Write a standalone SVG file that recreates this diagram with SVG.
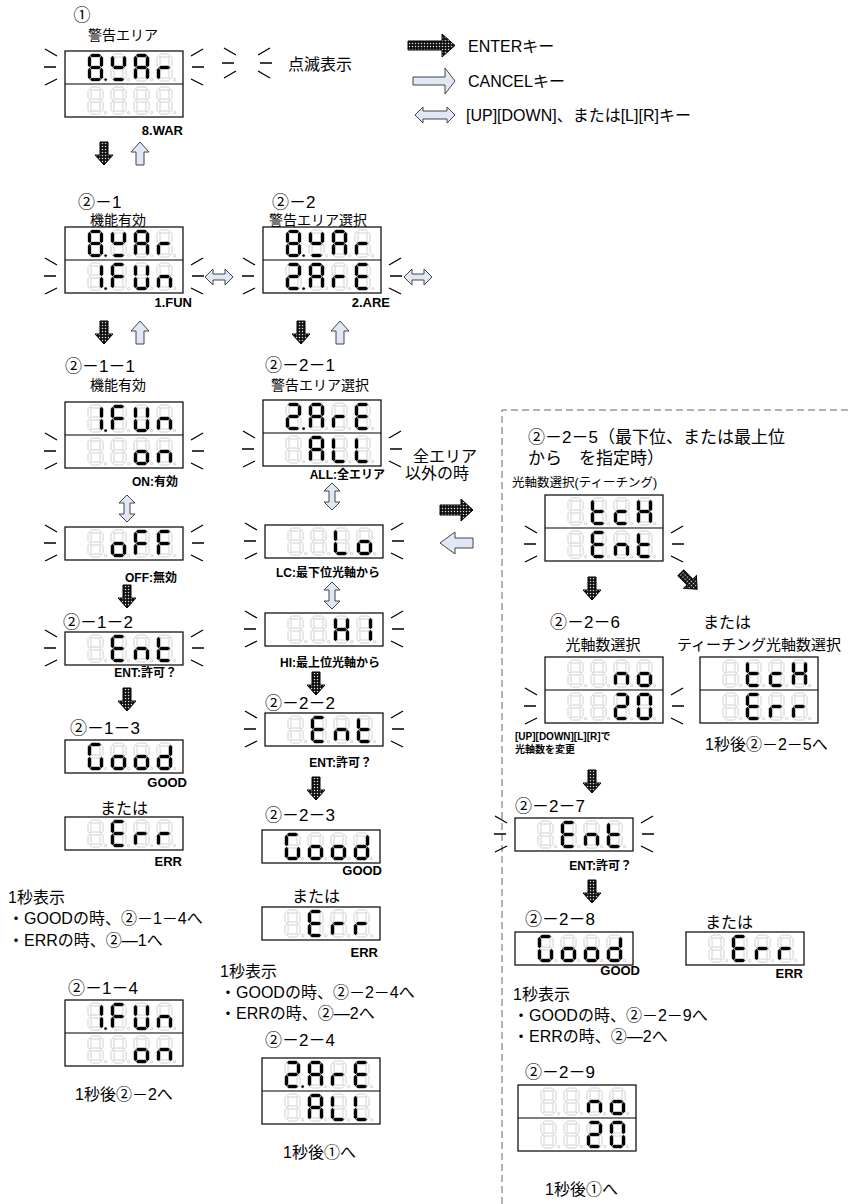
<svg xmlns="http://www.w3.org/2000/svg" width="851" height="1204" viewBox="0 0 851 1204">
<style>
text{font-family:"Liberation Sans","Noto Sans CJK JP",sans-serif;fill:#000}
.h{font-size:17px}
.m{font-size:16px}
.s{font-size:14px}
.s15{font-size:15px}
.lb{font-size:13px;font-weight:bold}
.lc{font-size:12px;font-weight:bold}
.xs{font-size:10px;font-weight:bold}
.box{fill:#fff;stroke:#000;stroke-width:1.2}
.off{fill:#fff;stroke:#c4c4c4;stroke-width:0.8}
.on{fill:#000;stroke:#000;stroke-width:0.3}
.bl{stroke:#000;stroke-width:1.3;fill:none}
.en{fill:url(#dots);stroke:#000;stroke-width:1}
.ca{fill:#dfe8f4;stroke:#444;stroke-width:1}
.ds{fill:none;stroke:#666;stroke-width:1;stroke-dasharray:7,4}
</style>
<defs>
<pattern id="dots" width="3" height="3" patternUnits="userSpaceOnUse"><rect width="3" height="3" fill="#111"/><circle cx="1.5" cy="1.5" r="0.75" fill="#ddd"/></pattern>
<path id="sa" d="M2.1,1.5L3.6,0H11.4L12.9,1.5L11.4,3H3.6Z"/>
<path id="sg" d="M2.1,13.5L3.6,12H11.4L12.9,13.5L11.4,15H3.6Z"/>
<path id="sd" d="M2.1,25.5L3.6,24H11.4L12.9,25.5L11.4,27H3.6Z"/>
<path id="sf" d="M1.5,2.1L3,3.6V11.4L1.5,12.9L0,11.4V3.6Z"/>
<path id="se" d="M1.5,14.1L3,15.6V23.4L1.5,24.9L0,23.4V15.6Z"/>
<path id="sb" d="M13.5,2.1L15,3.6V11.4L13.5,12.9L12,11.4V3.6Z"/>
<path id="sc" d="M13.5,14.1L15,15.6V23.4L13.5,24.9L12,23.4V15.6Z"/>
<circle id="sp" cx="17.6" cy="25.6" r="1.2"/>
<g id="o8"><use href="#sa" class="off"/><use href="#sb" class="off"/><use href="#sc" class="off"/><use href="#sd" class="off"/><use href="#se" class="off"/><use href="#sf" class="off"/><use href="#sg" class="off"/><use href="#sp" class="off"/></g>
<g id="g8d"><use href="#sa" class="on"/><use href="#sb" class="on"/><use href="#sc" class="on"/><use href="#sd" class="on"/><use href="#se" class="on"/><use href="#sf" class="on"/><use href="#sg" class="on"/><use href="#sp" class="on"/></g>
<g id="gW"><use href="#o8"/><use href="#sf" class="on"/><use href="#sb" class="on"/><use href="#sg" class="on"/><use href="#sd" class="on"/></g>
<g id="gA"><use href="#o8"/><use href="#sa" class="on"/><use href="#sb" class="on"/><use href="#sc" class="on"/><use href="#se" class="on"/><use href="#sf" class="on"/><use href="#sg" class="on"/></g>
<g id="gr"><use href="#o8"/><use href="#se" class="on"/><use href="#sg" class="on"/></g>
<g id="g1d"><use href="#o8"/><use href="#sb" class="on"/><use href="#sc" class="on"/><use href="#sp" class="on"/></g>
<g id="gF"><use href="#o8"/><use href="#sa" class="on"/><use href="#se" class="on"/><use href="#sf" class="on"/><use href="#sg" class="on"/></g>
<g id="gU"><use href="#o8"/><use href="#sb" class="on"/><use href="#sc" class="on"/><use href="#sd" class="on"/><use href="#se" class="on"/><use href="#sf" class="on"/></g>
<g id="gn"><use href="#o8"/><use href="#sc" class="on"/><use href="#se" class="on"/><use href="#sg" class="on"/></g>
<g id="g2d"><use href="#o8"/><use href="#sa" class="on"/><use href="#sb" class="on"/><use href="#sg" class="on"/><use href="#se" class="on"/><use href="#sd" class="on"/><use href="#sp" class="on"/></g>
<g id="gE"><use href="#o8"/><use href="#sa" class="on"/><use href="#sd" class="on"/><use href="#se" class="on"/><use href="#sf" class="on"/><use href="#sg" class="on"/></g>
<g id="go"><use href="#o8"/><use href="#sc" class="on"/><use href="#sd" class="on"/><use href="#se" class="on"/><use href="#sg" class="on"/></g>
<g id="gL"><use href="#o8"/><use href="#sd" class="on"/><use href="#se" class="on"/><use href="#sf" class="on"/></g>
<g id="gH"><use href="#o8"/><use href="#sb" class="on"/><use href="#sc" class="on"/><use href="#se" class="on"/><use href="#sf" class="on"/><use href="#sg" class="on"/></g>
<g id="gI"><use href="#o8"/><use href="#sb" class="on"/><use href="#sc" class="on"/></g>
<g id="gt"><use href="#o8"/><use href="#sd" class="on"/><use href="#se" class="on"/><use href="#sf" class="on"/><use href="#sg" class="on"/></g>
<g id="gc"><use href="#o8"/><use href="#sd" class="on"/><use href="#se" class="on"/><use href="#sg" class="on"/></g>
<g id="gG"><use href="#o8"/><use href="#sa" class="on"/><use href="#sf" class="on"/><use href="#se" class="on"/><use href="#sd" class="on"/><use href="#sc" class="on"/></g>
<g id="gd"><use href="#o8"/><use href="#sb" class="on"/><use href="#sc" class="on"/><use href="#sd" class="on"/><use href="#se" class="on"/><use href="#sg" class="on"/></g>
<g id="g2"><use href="#o8"/><use href="#sa" class="on"/><use href="#sb" class="on"/><use href="#sg" class="on"/><use href="#se" class="on"/><use href="#sd" class="on"/></g>
<g id="g0"><use href="#o8"/><use href="#sa" class="on"/><use href="#sb" class="on"/><use href="#sc" class="on"/><use href="#sd" class="on"/><use href="#se" class="on"/><use href="#sf" class="on"/></g>
<path id="blink" class="bl" d="M-20,-2L-8,5M-21,16H-9M-20,34L-8,28M126,5L138,-2M127,16H139M126,28L138,34"/>
<g id="box2"><rect class="box" width="118" height="66"/><path class="box" d="M0,33H118"/></g>
<rect id="box1" class="box" width="118" height="33"/>
<path id="aDown" d="M-4,0H4V13H9L0,23L-9,13H-4Z"/>
<path id="aUp" d="M-4,23H4V10H9L0,0L-9,10H-4Z"/>
<path id="aUD" d="M0,0L8,8H3V19H8L0,27L-8,19H-3V8H-8Z"/>
<path id="aLR" d="M-14,0L-6,-8V-3H6V-8L14,0L6,8V3H-6V8Z"/>
</defs>
<rect width="851" height="1204" fill="#fff"/>

<g id="legend">
<path class="en" d="M408,41H442V34L455,45.5L442,57V50H408Z"/>
<text class="m" x="468" y="52">ENTERキー</text>
<path class="ca" d="M413,77H445V68L455,81L445,94V85H413Z"/>
<text class="m" x="468" y="87">CANCELキー</text>
<path class="ca" d="M415,115L423,107V111H447V107L455,115L447,123V119H423V123Z"/>
<text class="m" x="466" y="121">[UP][DOWN]、または[L][R]キー</text>
<path class="bl" d="M224,48L236,55M222,63H234M224,78L236,71M258,55L270,48M260,63H272M258,71L270,78"/>
<text class="m" x="288" y="70">点滅表示</text>
</g>

<g id="frame"><path class="ds" d="M502,1204V410H851"/></g>

<g id="connectors">
<use href="#aDown" class="en" x="104" y="142"/>
<use href="#aUp" class="ca" x="140" y="142"/>
<use href="#aLR" class="ca" x="219" y="277"/>
<use href="#aLR" class="ca" x="418" y="277"/>
<use href="#aDown" class="en" x="104" y="321"/>
<use href="#aUp" class="ca" x="140" y="321"/>
<use href="#aDown" class="en" x="301" y="321"/>
<use href="#aUp" class="ca" x="340" y="321"/>
<use href="#aUD" class="ca" x="127" y="495"/>
<use href="#aDown" class="en" x="127" y="585"/>
<use href="#aDown" class="en" x="127" y="688"/>
<use href="#aUD" class="ca" x="332" y="483"/>
<use href="#aUD" class="ca" x="332" y="582"/>
<use href="#aDown" class="en" x="316" y="672"/>
<use href="#aDown" class="en" x="316" y="777"/>
<path class="en" d="M440,505H461V499L473,510L461,521V515H440Z"/>
<path class="ca" d="M473,538H455V532L440,543L455,554V548H473Z"/>
<use href="#aDown" class="en" x="592" y="577"/>
<use href="#aDown" class="en" transform="translate(689,581) rotate(-45) translate(0,-11.5)"/>
<use href="#aDown" class="en" x="592" y="770"/>
<use href="#aDown" class="en" x="592" y="880"/>
</g>

<g id="node-1">
<text class="h" x="82" y="21" text-anchor="middle">①</text>
<text class="s" x="123" y="40" text-anchor="middle">警告エリア</text>
<g transform="translate(65,51)"><use href="#box2"/>
<use href="#g8d" x="23" y="3"/><use href="#gW" x="46" y="3"/><use href="#gA" x="69" y="3"/><use href="#gr" x="92" y="3"/>
<use href="#o8" x="23" y="36"/><use href="#o8" x="46" y="36"/><use href="#o8" x="69" y="36"/><use href="#o8" x="92" y="36"/>
<use href="#blink"/></g>
<text class="lb" x="183" y="135" text-anchor="end">8.WAR</text>
</g>

<g id="node-2-1">
<text class="h" x="78" y="208">②－1</text>
<text class="s" x="118" y="225" text-anchor="middle">機能有効</text>
<g transform="translate(65,227)"><use href="#box2"/>
<use href="#g8d" x="23" y="3"/><use href="#gW" x="46" y="3"/><use href="#gA" x="69" y="3"/><use href="#gr" x="92" y="3"/>
<use href="#g1d" x="23" y="36"/><use href="#gF" x="46" y="36"/><use href="#gU" x="69" y="36"/><use href="#gn" x="92" y="36"/>
<use href="#blink" y="33"/></g>
<text class="lb" x="192" y="307" text-anchor="end">1.FUN</text>
</g>

<g id="node-2-2">
<text class="h" x="272" y="208">②－2</text>
<text class="s" x="318" y="225" text-anchor="middle">警告エリア選択</text>
<g transform="translate(263,227)"><use href="#box2"/>
<use href="#g8d" x="23" y="3"/><use href="#gW" x="46" y="3"/><use href="#gA" x="69" y="3"/><use href="#gr" x="92" y="3"/>
<use href="#g2d" x="23" y="36"/><use href="#gA" x="46" y="36"/><use href="#gr" x="69" y="36"/><use href="#gE" x="92" y="36"/>
<use href="#blink" y="33"/></g>
<text class="lb" x="390" y="307" text-anchor="end">2.ARE</text>
</g>

<g id="node-2-1-1">
<text class="h" x="65" y="372">②－1－1</text>
<text class="s" x="118" y="390" text-anchor="middle">機能有効</text>
<g transform="translate(65,402)"><use href="#box2"/>
<use href="#g1d" x="23" y="3"/><use href="#gF" x="46" y="3"/><use href="#gU" x="69" y="3"/><use href="#gn" x="92" y="3"/>
<use href="#o8" x="23" y="36"/><use href="#o8" x="46" y="36"/><use href="#go" x="69" y="36"/><use href="#gn" x="92" y="36"/>
<use href="#blink" y="33"/></g>
<text class="lc" x="178" y="486" text-anchor="end">ON:有効</text>
</g>

<g id="node-off">
<g transform="translate(65,527)"><use href="#box1"/>
<use href="#o8" x="23" y="3"/><use href="#go" x="46" y="3"/><use href="#gF" x="69" y="3"/><use href="#gF" x="92" y="3"/>
<use href="#blink"/></g>
<text class="lc" x="177" y="582" text-anchor="end">OFF:無効</text>
</g>

<g id="node-2-1-2">
<text class="h" x="63" y="628">②－1－2</text>
<g transform="translate(65,632)"><use href="#box1"/>
<use href="#o8" x="23" y="3"/><use href="#gE" x="46" y="3"/><use href="#gn" x="69" y="3"/><use href="#gt" x="92" y="3"/>
<use href="#blink"/></g>
<text class="lc" x="177" y="677" text-anchor="end">ENT:許可？</text>
</g>

<g id="node-2-1-3">
<text class="h" x="70" y="734">②－1－3</text>
<g transform="translate(65,740)"><use href="#box1"/>
<use href="#gG" x="23" y="3"/><use href="#go" x="46" y="3"/><use href="#go" x="69" y="3"/><use href="#gd" x="92" y="3"/></g>
<text class="lb" x="187" y="787" text-anchor="end">GOOD</text>
</g>

<g id="node-2-1-3-err">
<text class="m" x="100" y="814">または</text>
<g transform="translate(65,817)"><use href="#box1"/>
<use href="#o8" x="23" y="3"/><use href="#gE" x="46" y="3"/><use href="#gr" x="69" y="3"/><use href="#gr" x="92" y="3"/></g>
<text class="lb" x="182" y="866" text-anchor="end">ERR</text>
<text class="m" x="8" y="903">1秒表示</text>
<text class="m" x="8" y="924">・GOODの時、②－1－4へ</text>
<text class="m" x="8" y="946">・ERRの時、②―1へ</text>
</g>

<g id="node-2-1-4">
<text class="h" x="68" y="994">②－1－4</text>
<g transform="translate(65,1000)"><use href="#box2"/>
<use href="#g1d" x="23" y="3"/><use href="#gF" x="46" y="3"/><use href="#gU" x="69" y="3"/><use href="#gn" x="92" y="3"/>
<use href="#o8" x="23" y="36"/><use href="#o8" x="46" y="36"/><use href="#go" x="69" y="36"/><use href="#gn" x="92" y="36"/></g>
<text class="m" x="75" y="1100">1秒後②－2へ</text>
</g>

<g id="node-2-2-1">
<text class="h" x="265" y="371">②－2－1</text>
<text class="s" x="320" y="390" text-anchor="middle">警告エリア選択</text>
<g transform="translate(263,400)"><use href="#box2"/>
<use href="#g2d" x="23" y="3"/><use href="#gA" x="46" y="3"/><use href="#gr" x="69" y="3"/><use href="#gE" x="92" y="3"/>
<use href="#o8" x="23" y="36"/><use href="#gA" x="46" y="36"/><use href="#gL" x="69" y="36"/><use href="#gL" x="92" y="36"/>
<use href="#blink" y="33"/></g>
<text class="lc" x="385" y="479" text-anchor="end">ALL:全エリア</text>
<text class="m" x="413" y="462">全エリア</text>
<text class="m" x="405" y="479">以外の時</text>
</g>

<g id="node-lo">
<g transform="translate(265,525)"><use href="#box1"/>
<use href="#o8" x="23" y="3"/><use href="#o8" x="46" y="3"/><use href="#gL" x="69" y="3"/><use href="#go" x="92" y="3"/>
<use href="#blink"/></g>
<text class="lc" x="380" y="577" text-anchor="end">LC:最下位光軸から</text>
</g>

<g id="node-hi">
<g transform="translate(265,613)"><use href="#box1"/>
<use href="#o8" x="23" y="3"/><use href="#o8" x="46" y="3"/><use href="#gH" x="69" y="3"/><use href="#gI" x="92" y="3"/>
<use href="#blink"/></g>
<text class="lc" x="380" y="667" text-anchor="end">HI:最上位光軸から</text>
</g>

<g id="node-2-2-2">
<text class="h" x="265" y="709">②－2－2</text>
<g transform="translate(265,713)"><use href="#box1"/>
<use href="#o8" x="23" y="3"/><use href="#gE" x="46" y="3"/><use href="#gn" x="69" y="3"/><use href="#gt" x="92" y="3"/>
<use href="#blink"/></g>
<text class="lc" x="372" y="767" text-anchor="end">ENT:許可？</text>
</g>

<g id="node-2-2-3">
<text class="h" x="265" y="821">②－2－3</text>
<g transform="translate(262,830)"><use href="#box1"/>
<use href="#gG" x="23" y="3"/><use href="#go" x="46" y="3"/><use href="#go" x="69" y="3"/><use href="#gd" x="92" y="3"/></g>
<text class="lb" x="382" y="875" text-anchor="end">GOOD</text>
</g>

<g id="node-2-2-3-err">
<text class="m" x="292" y="902">または</text>
<g transform="translate(262,907)"><use href="#box1"/>
<use href="#o8" x="23" y="3"/><use href="#gE" x="46" y="3"/><use href="#gr" x="69" y="3"/><use href="#gr" x="92" y="3"/></g>
<text class="lb" x="378" y="957" text-anchor="end">ERR</text>
<text class="m" x="220" y="977">1秒表示</text>
<text class="m" x="220" y="998">・GOODの時、②－2－4へ</text>
<text class="m" x="220" y="1019">・ERRの時、②―2へ</text>
</g>

<g id="node-2-2-4">
<text class="h" x="265" y="1046">②－2－4</text>
<g transform="translate(262,1058)"><use href="#box2"/>
<use href="#g2d" x="23" y="3"/><use href="#gA" x="46" y="3"/><use href="#gr" x="69" y="3"/><use href="#gE" x="92" y="3"/>
<use href="#o8" x="23" y="36"/><use href="#gA" x="46" y="36"/><use href="#gL" x="69" y="36"/><use href="#gL" x="92" y="36"/></g>
<text class="m" x="283" y="1158">1秒後①へ</text>
</g>

<g id="node-2-2-5">
<text class="h" x="528" y="443">②－2－5（最下位、または最上位</text>
<text class="h" x="528" y="464">から　を指定時）</text>
<text class="s" x="512" y="487" style="font-size:12.5px">光軸数選択(ティーチング)</text>
<g transform="translate(545,495)"><use href="#box2"/>
<use href="#o8" x="23" y="3"/><use href="#gt" x="46" y="3"/><use href="#gc" x="69" y="3"/><use href="#gH" x="92" y="3"/>
<use href="#o8" x="23" y="36"/><use href="#gE" x="46" y="36"/><use href="#gn" x="69" y="36"/><use href="#gt" x="92" y="36"/>
<use href="#blink" y="33"/></g>
</g>

<g id="node-2-2-6">
<text class="h" x="550" y="628">②－2－6</text>
<text class="s15" x="603" y="650" text-anchor="middle">光軸数選択</text>
<g transform="translate(545,657)"><use href="#box2"/>
<use href="#o8" x="23" y="3"/><use href="#o8" x="46" y="3"/><use href="#gn" x="69" y="3"/><use href="#go" x="92" y="3"/>
<use href="#o8" x="23" y="36"/><use href="#o8" x="46" y="36"/><use href="#g2" x="69" y="36"/><use href="#g0" x="92" y="36"/>
<use href="#blink" y="33"/></g>
<text class="xs" x="515" y="740">[UP][DOWN][L][R]で</text>
<text class="xs" x="515" y="753">光軸数を変更</text>
</g>

<g id="node-tch-err">
<text class="m" x="703" y="628">または</text>
<text class="s15" x="677" y="650">ティーチング光軸数選択</text>
<g transform="translate(700,657)"><use href="#box2"/>
<use href="#o8" x="23" y="3"/><use href="#gt" x="46" y="3"/><use href="#gc" x="69" y="3"/><use href="#gH" x="92" y="3"/>
<use href="#o8" x="23" y="36"/><use href="#gE" x="46" y="36"/><use href="#gr" x="69" y="36"/><use href="#gr" x="92" y="36"/></g>
<text class="m" x="705" y="750">1秒後②－2－5へ</text>
</g>

<g id="node-2-2-7">
<text class="h" x="515" y="812">②－2－7</text>
<g transform="translate(515,818)"><use href="#box1"/>
<use href="#o8" x="23" y="3"/><use href="#gE" x="46" y="3"/><use href="#gn" x="69" y="3"/><use href="#gt" x="92" y="3"/>
<use href="#blink"/></g>
<text class="lc" x="632" y="870" text-anchor="end">ENT:許可？</text>
</g>

<g id="node-2-2-8">
<text class="h" x="525" y="925">②－2－8</text>
<g transform="translate(515,932)"><use href="#box1"/>
<use href="#gG" x="23" y="3"/><use href="#go" x="46" y="3"/><use href="#go" x="69" y="3"/><use href="#gd" x="92" y="3"/></g>
<text class="lb" x="640" y="975" text-anchor="end">GOOD</text>
<text class="m" x="513" y="1000">1秒表示</text>
<text class="m" x="513" y="1021">・GOODの時、②－2－9へ</text>
<text class="m" x="513" y="1042">・ERRの時、②―2へ</text>
</g>

<g id="node-2-2-8-err">
<text class="m" x="705" y="928">または</text>
<g transform="translate(686,932)"><use href="#box1"/>
<use href="#o8" x="23" y="3"/><use href="#gE" x="46" y="3"/><use href="#gr" x="69" y="3"/><use href="#gr" x="92" y="3"/></g>
<text class="lb" x="803" y="978" text-anchor="end">ERR</text>
</g>

<g id="node-2-2-9">
<text class="h" x="525" y="1078">②－2－9</text>
<g transform="translate(518,1085)"><use href="#box2"/>
<use href="#o8" x="23" y="3"/><use href="#o8" x="46" y="3"/><use href="#gn" x="69" y="3"/><use href="#go" x="92" y="3"/>
<use href="#o8" x="23" y="36"/><use href="#o8" x="46" y="36"/><use href="#g2" x="69" y="36"/><use href="#g0" x="92" y="36"/></g>
<text class="m" x="545" y="1195">1秒後①へ</text>
</g>
</svg>
